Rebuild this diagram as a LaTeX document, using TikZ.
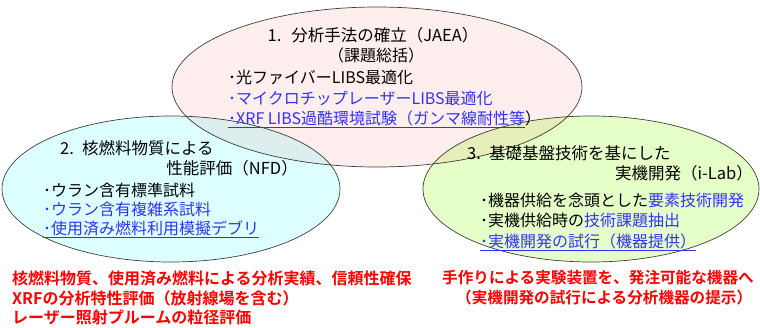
\documentclass[tikz,border=0pt]{standalone}
\usepackage{fontspec}
\setmainfont{Noto Sans CJK JP}[BoldFont={Noto Sans CJK JP Bold}]
\usetikzlibrary{shapes.geometric}
\definecolor{ovalpink}{RGB}{255,238,238}
\definecolor{ovalcyan}{RGB}{222,255,255}
\definecolor{ovalgreen}{RGB}{230,255,200}
\definecolor{itemblue}{RGB}{50,50,245}
\definecolor{resultred}{RGB}{255,0,0}

\begin{document}
\begin{tikzpicture}[x=1pt, y=-1pt,
    oval/.style={ellipse, draw=black!75, line width=0.7pt, inner sep=0pt},
    head/.style={font=\fontsize{16.5}{19}\selectfont, inner sep=0pt},
    item/.style={font=\fontsize{16}{19}\selectfont, inner sep=0pt, anchor=west},
    result/.style={font=\fontsize{16}{19}\selectfont\bfseries, text=resultred, inner sep=0pt, anchor=west}
]

\useasboundingbox (0,0) rectangle (760,327);

% Three overlapping fields
\begin{scope}[blend group=multiply]
    \node[oval, fill=ovalpink, minimum width=410pt, minimum height=160pt] (analysis) at (377,87) {};
    \node[oval, fill=ovalcyan, minimum width=338pt, minimum height=146pt] (nuclear) at (171,189) {};
    \node[oval, fill=ovalgreen, minimum width=336pt, minimum height=146pt] (device) at (591,189) {};
\end{scope}

% 1. Analysis method
\node[head] (analysistitle) at (373,35) {1.\hspace{0.6em}分析手法の確立（JAEA）};
\node[head, font=\fontsize{16}{19}\selectfont] (analysissub) at (376,55) {（課題総括）};
\node[item] (fiber) at (228,77) {･光ファイバーLIBS最適化};
\node[item, text=itemblue] (microchip) at (228,98) {･マイクロチップレーザーLIBS最適化};
\node[item] (harsh) at (228,119) {\textcolor{itemblue}{\underline{･XRF LIBS過酷環境試験（ガンマ線耐性等}}）};

% 2. Nuclear fuel materials
\node[head, anchor=west] (nucleartitle) at (60,148) {2.\hspace{0.5em}核燃料物質による};
\node[head, anchor=east] (nuclearsub) at (298,168) {性能評価（NFD）};
\node[item] (uraniumstd) at (43,190) {･ウラン含有標準試料};
\node[item, text=itemblue] (uraniumcx) at (43,209) {･ウラン含有複雑系試料};
\node[item, text=itemblue] (debris) at (43,229) {\underline{･使用済み燃料利用模擬デブリ}};

% 3. Practical device
\node[head, anchor=west] (devicetitle) at (467,153) {3.\hspace{0.5em}基礎基盤技術を基にした};
\node[head, anchor=east] (devicesub) at (753,173) {実機開発（i-Lab）};
\node[item] (element) at (480,200) {･機器供給を念頭とした\textcolor{itemblue}{要素技術開発}};
\node[item] (issue) at (480,220) {･実機供給時の\textcolor{itemblue}{技術課題抽出}};
\node[item, text=itemblue] (trial) at (480,242) {\underline{･実機開発の試行（機器提供）}};

% Results
\node[result] (record) at (12,278) {核燃料物質、使用済み燃料による分析実績、信頼性確保};
\node[result] (xrf) at (12,298) {XRFの分析特性評価（放射線場を含む）};
\node[result] (plume) at (12,317) {レーザー照射プルームの粒径評価};
\node[result, font=\fontsize{15.6}{19}\selectfont\bfseries] (order) at (442,278) {手作りによる実験装置を、発注可能な機器へ};
\node[result, font=\fontsize{15.6}{19}\selectfont\bfseries] (present) at (456,298) {（実機開発の試行による分析機器の提示）};

\end{tikzpicture}
\end{document}
